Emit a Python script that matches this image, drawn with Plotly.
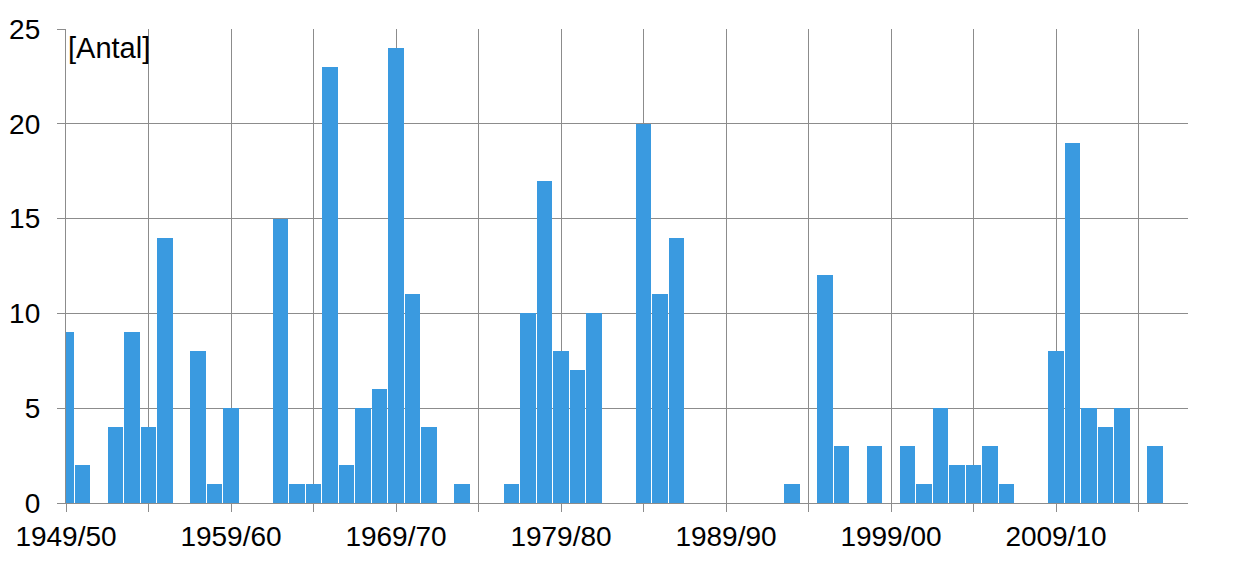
import plotly.graph_objects as go

start_years = list(range(1949, 2018))
seasons = [f"{y}/{str(y + 1)[-2:]}" for y in start_years]
counts = [9, 2, 0, 4, 9, 4, 14, 0, 8, 1,
          5, 0, 0, 15, 1, 1, 23, 2, 5, 6,
          24, 11, 4, 0, 1, 0, 0, 1, 10, 17,
          8, 7, 10, 0, 0, 20, 11, 14, 0, 0,
          0, 0, 0, 0, 1, 0, 12, 3, 0, 3,
          0, 3, 1, 5, 2, 2, 3, 1, 0, 0,
          8, 19, 5, 4, 5, 0, 3, 0, 0]
label_seasons = ["1949/50", "1959/60", "1969/70", "1979/80", "1989/90", "1999/00", "2009/10"]
y_ticks = [0, 5, 10, 15, 20, 25]

idx = list(range(len(seasons)))
tickvals = idx[::5]
ticktext = [seasons[i] if seasons[i] in label_seasons else "" for i in tickvals]

fig = go.Figure()
fig.add_trace(go.Bar(
    x=idx, y=counts, width=0.92,
    marker=dict(color="#3a9ae0", line=dict(width=0)),
    hovertext=seasons,
))

grid = "#8c8c8c"
fig.update_layout(
    width=1240, height=553,
    margin=dict(l=58, r=60, t=21, b=58, autoexpand=False),
    plot_bgcolor="white", paper_bgcolor="white",
    showlegend=False,
    font=dict(family="Liberation Sans, Arial, sans-serif", size=28, color="black"),
    bargap=0,
)
fig.update_xaxes(
    range=[0, len(seasons) - 1],
    tickmode="array", tickvals=tickvals, ticktext=ticktext,
    showgrid=True, gridcolor=grid, gridwidth=1.3,
    ticks="outside", ticklen=8, tickcolor=grid, tickwidth=1.3,
    showline=True, linecolor=grid, linewidth=1.3,
    zeroline=False, tickfont=dict(size=28), automargin=False,
)
fig.update_yaxes(
    range=[0, 25], tickmode="array", tickvals=y_ticks,
    showgrid=True, gridcolor=grid, gridwidth=1.3,
    ticks="outside", ticklen=8, tickcolor=grid, tickwidth=1.3,
    showline=True, linecolor=grid, linewidth=1.3,
    zeroline=False, tickfont=dict(size=28), automargin=False,
    ticklabelstandoff=11,
)
fig.add_annotation(
    text="[Antal]", xref="paper", yref="paper", x=0, y=1,
    xanchor="left", yanchor="top", xshift=0, yshift=-1,
    showarrow=False, font=dict(size=29, color="black"),
)
fig.write_html("out.html")
